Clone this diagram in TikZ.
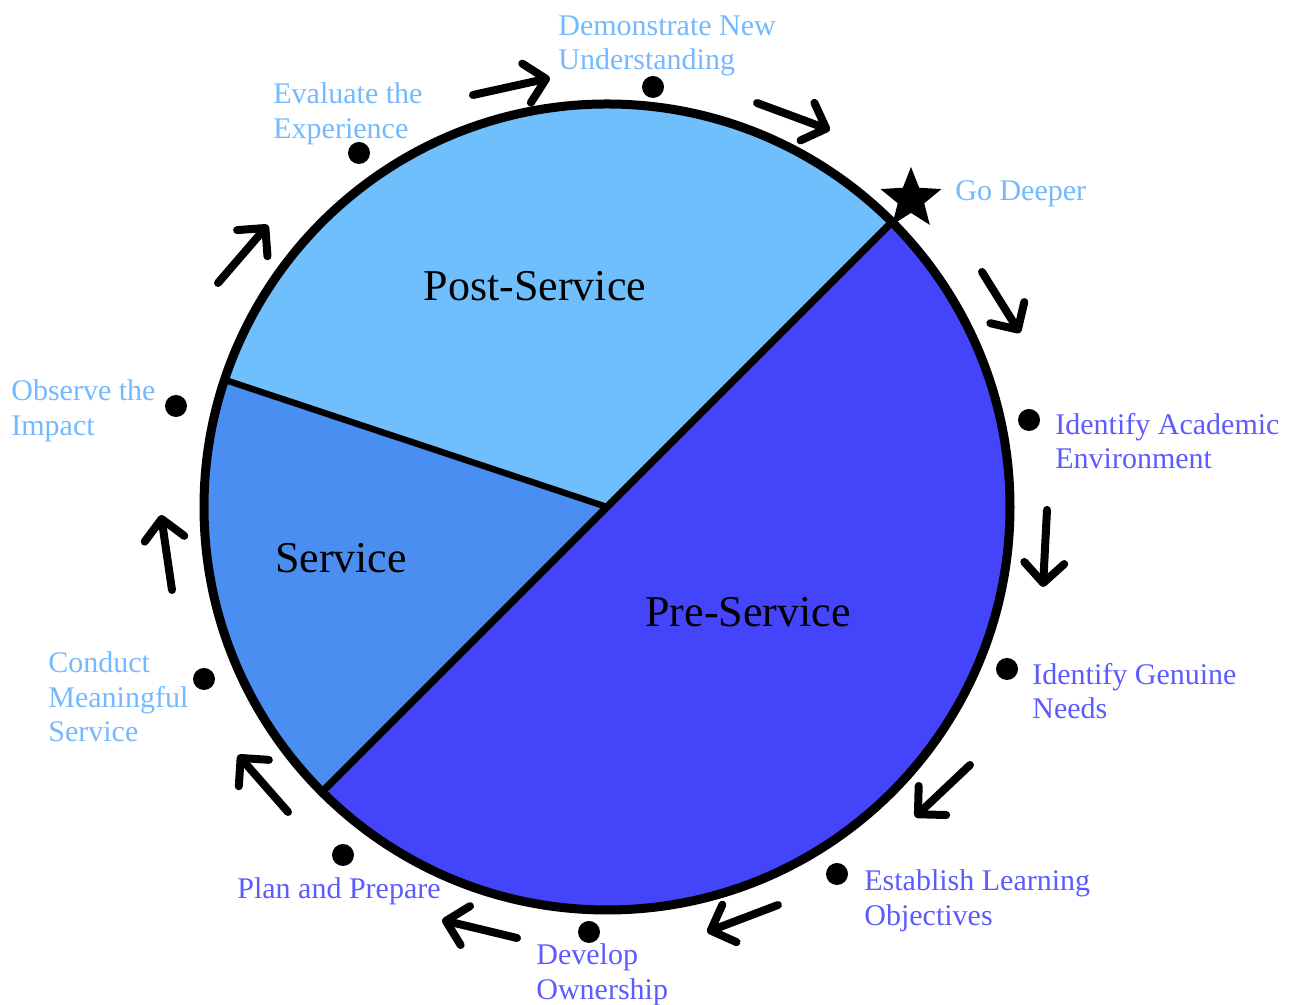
\documentclass[tikz,border=0pt]{standalone}
\usepackage{fontspec}
\setmainfont{Liberation Serif}
\usetikzlibrary{arrows.meta,shapes.geometric,calc}
\definecolor{postcol}{HTML}{6FBFFD}
\definecolor{servcol}{HTML}{4B8EF1}
\definecolor{precol}{HTML}{4444FB}
\definecolor{lighttext}{HTML}{74B9FF}
\definecolor{darktext}{HTML}{5B5BFF}
\tikzset{
  phase/.style={inner sep=0pt,font=\fontsize{22}{26}\selectfont},
  steplab/.style={anchor=west,align=left,inner sep=0pt,font=\fontsize{15}{17.25}\selectfont},
  dot/.style={circle,fill=black,inner sep=0pt,minimum size=11pt},
  turn/.style={line width=4pt,line cap=round,-{Straight Barb[length=10pt,width=20pt,round]}}
}
\begin{document}
\begin{tikzpicture}[x=0.5pt,y=0.5pt]
        \useasboundingbox (0,0) rectangle (1292,1005);
        \coordinate (o) at (607,498);
        \coordinate (a) at ($(o)+(45:403)$);
        \coordinate (b) at ($(o)+(225:403)$);
        \coordinate (c) at ($(o)+(161.6:403)$);

        \fill[precol] (o) -- (a) arc[start angle=45,end angle=-135,radius=403] -- cycle;
        \fill[postcol] (o) -- (a) arc[start angle=45,end angle=161.6,radius=403] -- cycle;
        \fill[servcol] (o) -- (c) arc[start angle=161.6,end angle=225,radius=403] -- cycle;
        \draw[line width=4.5pt] (o) circle[radius=403];
        \draw[-,line width=3.6pt] (a) -- (b);
        \draw[-,line width=3.2pt] (o) -- (c);

        \node[phase] (post) at (535,719) {Post-Service};
        \node[phase] (serv) at (341,447) {Service};
        \node[phase] (pre) at (748,393) {Pre-Service};

        \node[star,star points=5,star point ratio=2.3,fill=black,inner sep=0pt,minimum size=32pt] (deep) at (911,806) {};
        \node[dot] (d1) at (1029,585) {};
        \node[dot] (d2) at (1007,336) {};
        \node[dot] (d3) at (837,131) {};
        \node[dot] (d4) at (589,73) {};
        \node[dot] (d5) at (343,150) {};
        \node[dot] (d6) at (204,326) {};
        \node[dot] (d7) at (176,599) {};
        \node[dot] (d8) at (359,852) {};
        \node[dot] (d9) at (653,918) {};

        \node[steplab,text=lighttext] (l0) at (955,811) {Go Deeper};
        \node[steplab,text=darktext] (l1) at (1055,564) {Identify Academic\\Environment};
        \node[steplab,text=darktext] (l2) at (1032,314) {Identify Genuine\\Needs};
        \node[steplab,text=darktext] (l3) at (864,104) {Establish Learning\\Objectives};
        \node[steplab,text=darktext] (l4) at (536,30) {Develop\\Ownership};
        \node[steplab,text=darktext] (l5) at (237,114) {Plan and Prepare};
        \node[steplab,text=lighttext] (l6) at (48,308) {Conduct\\Meaningful\\Service};
        \node[steplab,text=lighttext] (l7) at (11,594) {Observe the\\Impact};
        \node[steplab,text=lighttext] (l8) at (273,891) {Evaluate the\\Experience};
        \node[steplab,text=lighttext] (l9) at (558,959) {Demonstrate New\\Understanding};

        % arrows around the ring
        \coordinate (t1) at (982,733); \coordinate (h1) at (1020,672);
        \coordinate (t2) at (1047,495); \coordinate (h2) at (1043,418);
        \coordinate (t3) at (970,240); \coordinate (h3) at (915,188);
        \coordinate (t4) at (778,100); \coordinate (h4) at (707,73);
        \coordinate (t5) at (517,67); \coordinate (h5) at (442,85);
        \coordinate (t6) at (288,193); \coordinate (h6) at (238,250);
        \coordinate (t7) at (172,415); \coordinate (h7) at (161,490);
        \coordinate (t8) at (218,722); \coordinate (h8) at (268,780);
        \coordinate (t9) at (473,910); \coordinate (h9) at (550,927);
        \coordinate (t10) at (757,902); \coordinate (h10) at (830,875);
        \foreach \i in {1,...,10}
            \draw[turn] (t\i) -- (h\i);

    \end{tikzpicture}
\end{document}
